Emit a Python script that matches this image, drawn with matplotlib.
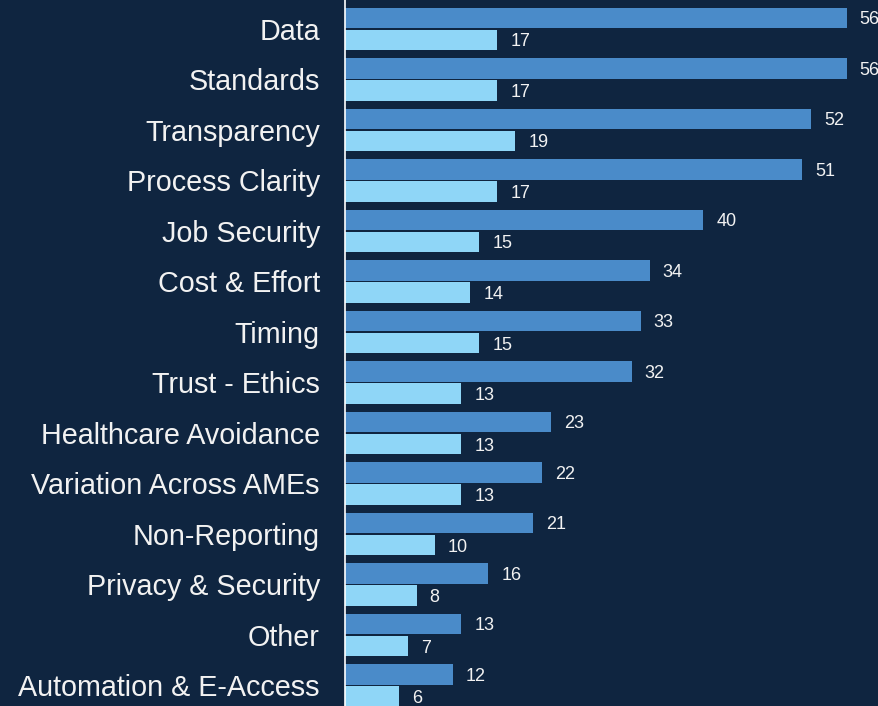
import matplotlib
matplotlib.use("Agg")
import matplotlib.pyplot as plt
import numpy as np

plt.rcParams['font.family'] = ['Liberation Sans', 'DejaVu Sans']

categories = ["Data", "Standards", "Transparency", "Process Clarity", "Job Security",
              "Cost & Effort", "Timing", "Trust - Ethics", "Healthcare Avoidance",
              "Variation Across AMEs", "Non-Reporting", "Privacy & Security", "Other",
              "Automation & E-Access"]
series_a = [56, 56, 52, 51, 40, 34, 33, 32, 23, 22, 21, 16, 13, 12]
series_b = [17, 17, 19, 17, 15, 14, 15, 13, 13, 13, 10, 8, 7, 6]

bg = "#0f2540"
dark = "#4a8bc9"
light = "#8fd6f7"
txt = "#f2f2f2"

fig = plt.figure(figsize=(8.79, 7.06), dpi=100, facecolor=bg)
ax = fig.add_axes([345/879, 0, 1 - 345/879, 1], facecolor=bg)

y = np.arange(len(categories))
h = 0.40
off = 0.218
ax.barh(y - off, series_a, height=h, color=dark)
ax.barh(y + off, series_b, height=h, color=light)

for yi, v in zip(y, series_a):
    ax.text(v + 1.45, yi - off, str(v), va='center_baseline', ha='left', color=txt, fontsize=13)
for yi, v in zip(y, series_b):
    ax.text(v + 1.45, yi + off, str(v), va='center_baseline', ha='left', color=txt, fontsize=13)

ax.set_xlim(0, (879 - 345) / 8.96)
ax.set_ylim(13.406, -0.574)
ax.set_yticks(y)
ax.set_yticklabels(categories, fontsize=20.7, color=txt)
ax.tick_params(axis='y', length=0, pad=18)
ax.set_xticks([])
for s in ['top', 'right', 'bottom']:
    ax.spines[s].set_visible(False)
ax.spines['left'].set_color('white')
ax.spines['left'].set_linewidth(1.2)

fig.savefig("out.png", dpi=100, facecolor=bg)
